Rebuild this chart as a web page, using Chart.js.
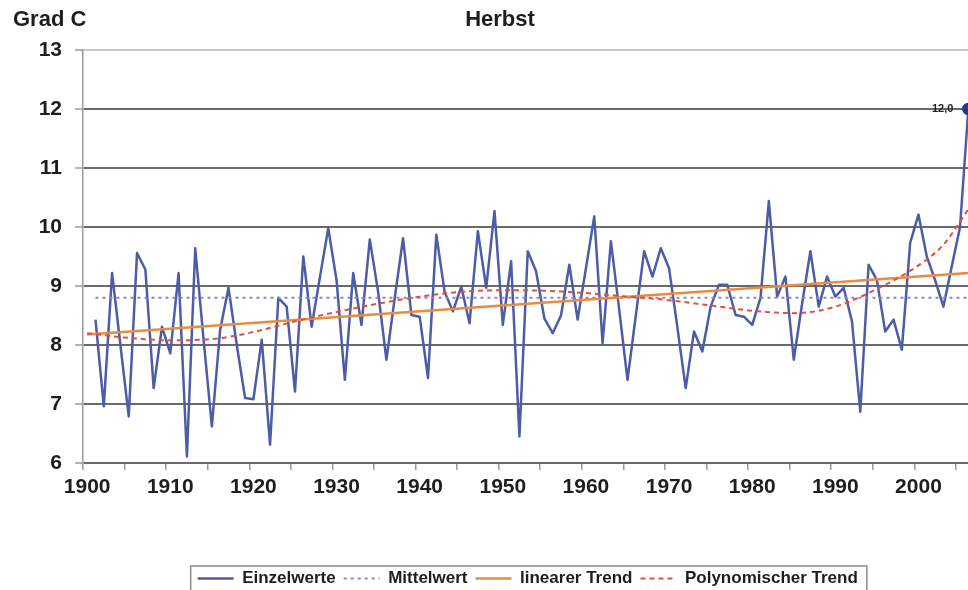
<!DOCTYPE html>
<html>
<head>
<meta charset="utf-8">
<script src="https://cdn.jsdelivr.net/npm/chart.js@4.4.1/dist/chart.umd.min.js"></script>
<style>
html,body{margin:0;padding:0;background:#fff;overflow:hidden;width:968px;height:590px}
#wrap{position:relative;width:968px;height:590px;overflow:hidden}
canvas{display:block}
</style>
</head>
<body>
<div id="wrap"><canvas id="c" width="980" height="597" style="width:980px;height:597px"></canvas></div>
<script>
// ---- data ----
const years = [
  1901,1902,1903,1904,1905,1906,1907,1908,1909,1910,
  1911,1912,1913,1914,1915,1916,1917,1918,1919,1920,
  1921,1922,1923,1924,1925,1926,1927,1928,1929,1930,
  1931,1932,1933,1934,1935,1936,1937,1938,1939,1940,
  1941,1942,1943,1944,1945,1946,1947,1948,1949,1950,
  1951,1952,1953,1954,1955,1956,1957,1958,1959,1960,
  1961,1962,1963,1964,1965,1966,1967,1968,1969,1970,
  1971,1972,1973,1974,1975,1976,1977,1978,1979,1980,
  1981,1982,1983,1984,1985,1986,1987,1988,1989,1990,
  1991,1992,1993,1994,1995,1996,1997,1998,1999,2000,
  2001,2002,2003,2004,2005,2006
];
const einzelwerte = [
  8.43,6.96,9.22,8.00,6.79,9.56,9.28,7.27,8.31,7.86,
  9.22,6.11,9.64,8.10,6.62,8.26,8.97,8.00,7.10,7.08,
  8.09,6.31,8.80,8.65,7.21,9.50,8.31,9.15,9.98,9.10,
  7.41,9.22,8.34,9.79,8.90,7.75,8.80,9.81,8.51,8.48,
  7.44,9.87,8.90,8.57,8.99,8.37,9.93,8.97,10.27,8.34,
  9.42,6.45,9.59,9.25,8.45,8.20,8.50,9.36,8.43,9.30,
  10.18,8.03,9.76,8.60,7.41,8.50,9.59,9.16,9.64,9.30,
  8.30,7.27,8.23,7.89,8.65,9.02,9.02,8.51,8.48,8.34,
  8.80,10.44,8.82,9.16,7.75,8.70,9.59,8.65,9.16,8.82,
  8.97,8.40,6.87,9.36,9.10,8.23,8.43,7.92,9.73,10.21,
  9.50,9.10,8.65,9.33,10.00,12.00
];
const mittelYears = [1901, 2006];
const mittelwert = [8.8, 8.8];
const linYears = [1900, 2006];
const linTrend = [8.18, 9.22];
const polyYears = [1900,1905,1910,1915,1920,1925,1930,1935,1940,1945,1950,1955,1960,1965,1970,1975,1980,1985,1990,1995,2000,2003,2006];
const polyTrend = [8.20,8.12,8.08,8.10,8.22,8.40,8.56,8.70,8.82,8.90,8.93,8.92,8.88,8.82,8.76,8.67,8.58,8.54,8.65,8.95,9.35,9.70,10.30];
const xTickLabels = [1900,1910,1920,1930,1940,1950,1960,1970,1980,1990,2000];
const yTickLabels = [6,7,8,9,10,11,12,13];
const seriesNames = ['Einzelwerte','Mittelwert','linearer Trend','Polynomischer Trend'];
const highlightLabel = '12,0';

const pts = (xs, ys) => xs.map((x, i) => ({x: x, y: ys[i]}));
const X_MIN = 1899.5, X_MAX = 2006.5;
const FONT = '"Liberation Sans", Arial, sans-serif';

const titlePlugin = {
  id: 'titles',
  afterDraw(chart) {
    const ctx = chart.ctx;
    ctx.save();
    ctx.fillStyle = '#1e1e1e';
    ctx.font = 'bold 22px ' + FONT;
    ctx.textBaseline = 'middle';
    ctx.textAlign = 'left';
    ctx.fillText('Grad C', 13, 20);
    ctx.textAlign = 'center';
    ctx.fillText('Herbst', 500, 20);
    ctx.restore();
  }
};

const legendBoxPlugin = {
  id: 'legendBox',
  afterDraw(chart) {
    const lg = chart.legend;
    if (!lg || !lg.legendHitBoxes || !lg.legendHitBoxes.length) return;
    const hb = lg.legendHitBoxes;
    let l = Infinity, r = -Infinity, t = Infinity, b = -Infinity;
    hb.forEach(h => { l = Math.min(l, h.left); r = Math.max(r, h.left + h.width); t = Math.min(t, h.top); b = Math.max(b, h.top + h.height); });
    const ctx = chart.ctx;
    ctx.save();
    ctx.strokeStyle = '#8a8a8a';
    ctx.lineWidth = 1.5;
    ctx.strokeRect(l - 7, t - 4, (r - l) + 16, (b - t) + 12);
    ctx.restore();
  }
};

const valueLabelPlugin = {
  id: 'valueLabel',
  afterDatasetsDraw(chart) {
    const meta = chart.getDatasetMeta(0);
    const el = meta.data[meta.data.length - 1];
    if (!el) return;
    const ctx = chart.ctx;
    ctx.save();
    ctx.fillStyle = '#222';
    ctx.font = 'bold 11px ' + FONT;
    ctx.textAlign = 'right';
    ctx.textBaseline = 'middle';
    ctx.fillText(highlightLabel, el.x - 15, el.y);
    ctx.restore();
  }
};

new Chart(document.getElementById('c'), {
  type: 'line',
  data: {
    datasets: [
      {
        label: seriesNames[0],
        data: pts(years, einzelwerte),
        borderColor: '#4C5CA6',
        backgroundColor: '#1F3A93',
        borderWidth: 2.5,
        borderJoinStyle: 'round',
        tension: 0,
        pointRadius: (c) => c.dataIndex === einzelwerte.length - 1 ? 5 : 0,
        pointBackgroundColor: '#1F3A93',
        pointBorderColor: '#1F3A93',
        pointHoverRadius: 0,
        order: 4
      },
      {
        label: seriesNames[1],
        data: pts(mittelYears, mittelwert),
        borderColor: '#8C84C4',
        borderWidth: 2,
        borderDash: [3, 4],
        pointRadius: 0,
        order: 3
      },
      {
        label: seriesNames[2],
        data: pts(linYears, linTrend),
        borderColor: '#EB8B3F',
        borderWidth: 2.5,
        pointRadius: 0,
        order: 2
      },
      {
        label: seriesNames[3],
        data: pts(polyYears, polyTrend),
        borderColor: '#E0503A',
        borderWidth: 2,
        borderDash: [5, 4],
        cubicInterpolationMode: 'monotone',
        pointRadius: 0,
        order: 1
      }
    ]
  },
  options: {
    responsive: false,
    animation: false,
    events: [],
    layout: { padding: { top: 50, right: 5, left: 0, bottom: 0 } },
    plugins: {
      title: { display: false },
      tooltip: { enabled: false },
      legend: {
        display: true,
        position: 'bottom',
        fullSize: false,
        labels: {
          usePointStyle: true,
          pointStyle: 'line',
          pointStyleWidth: 36,
          padding: 8,
          color: '#1e1e1e',
          font: { family: FONT, size: 17, weight: 'bold' },
          generateLabels: (chart) => chart.data.datasets.map((ds, i) => ({
            text: ds.label,
            datasetIndex: i,
            fillStyle: ds.borderColor,
            strokeStyle: ds.borderColor,
            lineWidth: ds.borderWidth,
            lineDash: ds.borderDash || [],
            lineCap: 'butt',
            pointStyle: 'line',
            fontColor: '#1e1e1e',
            hidden: false
          }))
        }
      }
    },
    scales: {
      x: {
        type: 'linear',
        position: 'bottom',
        weight: 1,
        min: X_MIN,
        max: X_MAX,
        afterBuildTicks: (s) => { s.ticks = xTickLabels.map(v => ({value: v})); },
        afterFit: (s) => { s.height = 99; },
        grid: { display: false, drawTicks: false },
        border: { display: false },
        ticks: {
          autoSkip: false,
          maxRotation: 0,
          padding: 12,
          color: '#1e1e1e',
          font: { family: FONT, size: 21, weight: 'bold' },
          callback: (v) => String(v)
        }
      },
      x2: {
        type: 'linear',
        position: 'bottom',
        weight: 0,
        min: X_MIN,
        max: X_MAX,
        afterBuildTicks: (s) => {
          const t = [];
          for (let v = X_MIN; v <= X_MAX; v += 5) t.push({value: v});
          s.ticks = t;
        },
        afterFit: (s) => { s.height = 0; },
        grid: { display: true, drawOnChartArea: false, drawTicks: true, tickLength: 7, color: '#999', lineWidth: 1.5 },
        border: { display: false },
        ticks: { display: false }
      },
      y: {
        type: 'linear',
        min: 6,
        max: 13,
        afterBuildTicks: (s) => { s.ticks = yTickLabels.map(v => ({value: v})); },
        afterFit: (s) => { s.width = 83; },
        grid: {
          color: (c) => c.tick && c.tick.value === 13 ? '#c9c9c9' : '#6a6a6a',
          lineWidth: 2,
          tickLength: 8,
          tickColor: '#999',
          tickWidth: 1.5
        },
        border: { display: true, color: '#9a9a9a', width: 1.5 },
        ticks: {
          padding: 13,
          color: '#1e1e1e',
          font: { family: FONT, size: 21, weight: 'bold' },
          callback: (v) => String(v)
        }
      }
    }
  },
  plugins: [titlePlugin, legendBoxPlugin, valueLabelPlugin]
});
</script>
</body>
</html>
